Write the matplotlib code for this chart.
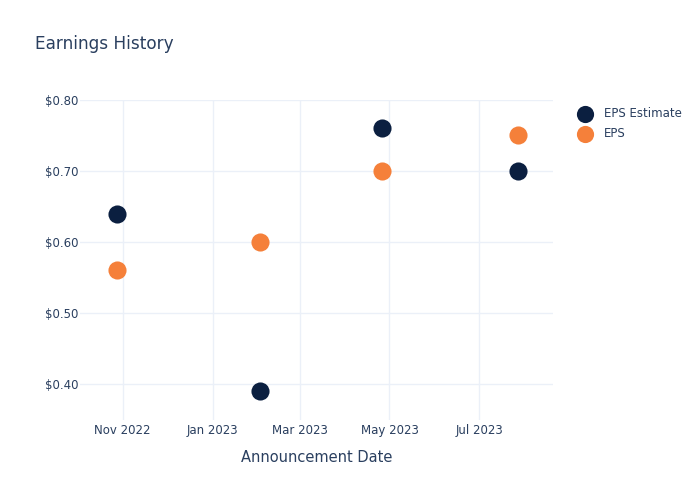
import pandas as pd
import matplotlib.pyplot as plt
import matplotlib.dates as mdates

# Dati
dates = pd.to_datetime(["2022-10-28", "2023-02-02", "2023-04-26", "2023-07-27"])
eps_estimate = [0.64, 0.39, 0.76, 0.70]
eps_actual = [0.56, 0.60, 0.70, 0.75]

text_color = "#2a3f5f"
grid_color = "#ebf0f8"
navy = "#0b1f40"
orange = "#f5803a"

fig = plt.figure(figsize=(7, 5), dpi=100)
ax = fig.add_axes([0.1143, 0.16, 0.6757, 0.64])

ax.scatter(dates, eps_estimate, s=170, color=navy, label="EPS Estimate", zorder=3, linewidths=0)
ax.scatter(dates, eps_actual, s=170, color=orange, label="EPS", zorder=3, linewidths=0)

ax.set_xlim(pd.Timestamp("2022-10-03"), pd.Timestamp("2023-08-20"))
ax.set_ylim(0.349, 0.80)

ax.xaxis.set_major_locator(mdates.MonthLocator(bymonth=[1, 3, 5, 7, 9, 11]))
ax.xaxis.set_major_formatter(mdates.DateFormatter("%b %Y"))
ax.set_yticks([0.4, 0.5, 0.6, 0.7, 0.8])
ax.set_yticklabels([f"${v:.2f}" for v in [0.4, 0.5, 0.6, 0.7, 0.8]])

ax.tick_params(axis="both", length=0, labelsize=8.5, colors=text_color)
ax.tick_params(axis="x", pad=3)
ax.tick_params(axis="y", pad=1)
ax.grid(True, color=grid_color, linewidth=1)
ax.set_axisbelow(True)
for s in ax.spines.values():
    s.set_visible(False)

ax.set_xlabel("Announcement Date", fontsize=10.5, color=text_color, labelpad=9)
fig.text(0.05, 0.912, "Earnings History", fontsize=12.2, color=text_color, va="center")

leg = ax.legend(loc="upper left", bbox_to_anchor=(1.02, 1.01), frameon=False,
                fontsize=8.5, handletextpad=0.6, labelspacing=0.55, markerscale=0.95)
for t in leg.get_texts():
    t.set_color(text_color)

fig.savefig("out.png", dpi=100)
